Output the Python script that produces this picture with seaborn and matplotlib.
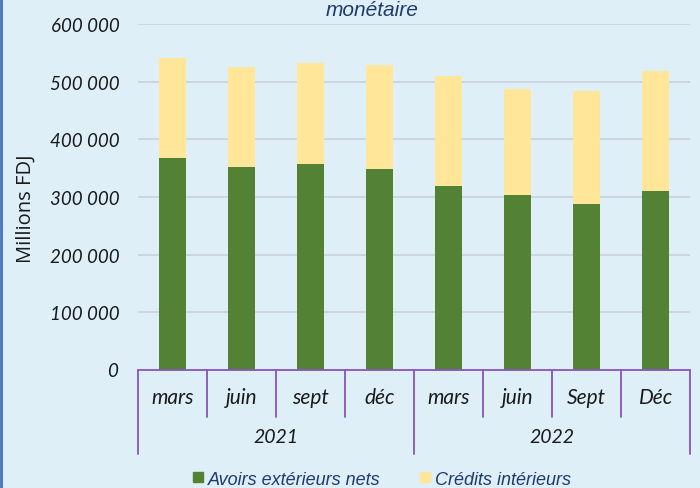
import matplotlib
matplotlib.use("Agg")
import matplotlib.pyplot as plt
import matplotlib.lines as mlines
import seaborn as sns
import pandas as pd

# valeurs (millions FDJ)
months = ["mars", "juin", "sept", "déc", "mars", "juin", "Sept", "Déc"]
years = ["2021", "2022"]
avoirs = [367000, 352000, 357000, 348000, 319000, 304000, 288000, 311000]
credits = [174000, 174000, 175000, 181000, 191000, 184000, 196000, 207000]
yticks = [0, 100000, 200000, 300000, 400000, 500000, 600000]
ytick_labels = ["0", "100 000", "200 000", "300 000", "400 000", "500 000", "600 000"]

BG = "#DEEFF8"
GREEN = "#548235"
YELLOW = "#FFE699"
PURPLE = "#8A55B8"
NAVY = "#1F3A6E"
DARK = "#1a1a1a"

sns.set_theme(style="white")
plt.rcParams["font.family"] = ["Lato", "DejaVu Sans"]

df = pd.DataFrame({
    "periode": [f"{m} {y}" for m, y in zip(months, ["2021"] * 4 + ["2022"] * 4)],
    "avoirs": avoirs,
    "total": [a + c for a, c in zip(avoirs, credits)],
})

fig = plt.figure(figsize=(7, 4.89), dpi=100, facecolor=BG)
ax = fig.add_axes([0.197, 0.241, 0.789, 0.708])
ax.set_facecolor(BG)

sns.barplot(data=df, x="periode", y="total", color=YELLOW, width=0.4,
            saturation=1, linewidth=0, ax=ax, zorder=3)
sns.barplot(data=df, x="periode", y="avoirs", color=GREEN, width=0.4,
            saturation=1, linewidth=0, ax=ax, zorder=3)

ax.set_xlim(-0.5, len(months) - 0.5)
ax.set_ylim(0, 600000)
ax.set_yticks(yticks[1:])
ax.set_yticklabels(ytick_labels[1:], fontstyle="italic", fontsize=13.5, color=DARK)
ax.tick_params(axis="y", length=0, pad=13)
ax.set_xticks([])
ax.set_xlabel("")
ax.set_ylabel("Millions FDJ", fontsize=14.5, color=DARK, family=["Open Sans", "DejaVu Sans"])
ax.yaxis.set_label_coords(-0.185, 0.47)
for y in yticks[1:]:
    ax.axhline(y, color="#C9D1D9", lw=1.2, zorder=1)
for s in ax.spines.values():
    s.set_visible(False)

# etiquette "0"
ax.text(-0.036, 0, "0", transform=ax.get_yaxis_transform(), ha="right", va="center",
        fontsize=13.5, fontstyle="italic", color=DARK)

# axe multi-niveaux
tr = ax.get_xaxis_transform()
ax.plot([-0.5, len(months) - 0.5], [0, 0], color=PURPLE, lw=1.3, transform=tr, clip_on=False, zorder=4)
for i in range(len(months) + 1):
    x = i - 0.5
    bottom = -0.243 if i % 4 == 0 else -0.136
    ax.plot([x, x], [0, bottom], color=PURPLE, lw=1.3, transform=tr, clip_on=False)
for i, m in enumerate(months):
    ax.text(i, -0.078, m, transform=tr, ha="center", va="center", fontsize=15,
            fontstyle="italic", color=DARK)
for j, yr in enumerate(years):
    ax.text(j * 4 + 1.5, -0.193, yr, transform=tr, ha="center", va="center", fontsize=14,
            fontstyle="italic", color=DARK)

# legende
lsans = ["Liberation Sans", "DejaVu Sans"]
handles = [
    mlines.Line2D([], [], marker="s", ls="", color=GREEN, markersize=7, label="Avoirs extérieurs nets"),
    mlines.Line2D([], [], marker="s", ls="", color=YELLOW, markersize=7, label="Crédits intérieurs"),
]
leg = fig.legend(handles=handles, loc="center", bbox_to_anchor=(0.543, 0.018), ncol=2,
                 frameon=False, handletextpad=0.05, columnspacing=2.0, handlelength=1.0,
                 prop={"size": 13, "style": "italic", "family": lsans})
for t in leg.get_texts():
    t.set_color(NAVY)

fig.text(0.532, 1 - 11 / 489, "monétaire", ha="center", va="center", fontsize=15,
         fontstyle="italic", color=NAVY, family=lsans)
fig.add_artist(mlines.Line2D([0.002, 0.002], [0, 1], color="#4472C4", lw=2, transform=fig.transFigure))

fig.savefig("out.png", dpi=100, facecolor=BG)
